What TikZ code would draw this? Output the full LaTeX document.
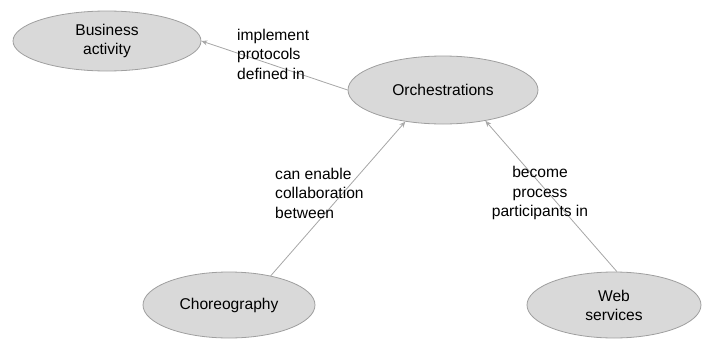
\documentclass[tikz,border=0pt]{standalone}
\usepackage{fontspec}
\setmainfont{Liberation Sans}
\usetikzlibrary{shapes.geometric,arrows.meta}
\begin{document}
\begin{tikzpicture}[x=1pt,y=-1pt,
  concept/.style={ellipse,draw=gray!75,line width=0.8pt,fill=gray!30,inner sep=0pt,
    font=\fontsize{15.6}{19}\selectfont,align=center},
  lbl/.style={font=\fontsize{15.6}{19.5}\selectfont,inner sep=0pt},
  rel/.style={draw=gray!70,line width=0.8pt,-{Stealth[length=6pt,width=5pt,open]}}]
\useasboundingbox (0,0) rectangle (702,343);
\node[concept,minimum width=188pt,minimum height=60pt] (bus) at (107,41) {Business\\activity};
\node[concept,minimum width=190pt,minimum height=68pt] (orch) at (443,90) {Orchestrations};
\node[concept,minimum width=172pt,minimum height=66pt] (cho) at (229,305) {Choreography};
\node[concept,minimum width=174pt,minimum height=66pt] (web) at (614,305) {Web\\services};
\draw[rel] (orch.west) -- (bus.east);
\draw[rel] (cho.35) -- (orch.-140);
\draw[rel] (web.85) -- (orch.-36);
\node[lbl,anchor=west,align=left] (l1) at (237,54) {implement\\protocols\\defined in};
\node[lbl,anchor=west,align=left] (l2) at (275,193) {can enable\\collaboration\\between};
\node[lbl,align=center] (l3) at (540,193) {become\\process\\participants in};
\end{tikzpicture}
\end{document}
